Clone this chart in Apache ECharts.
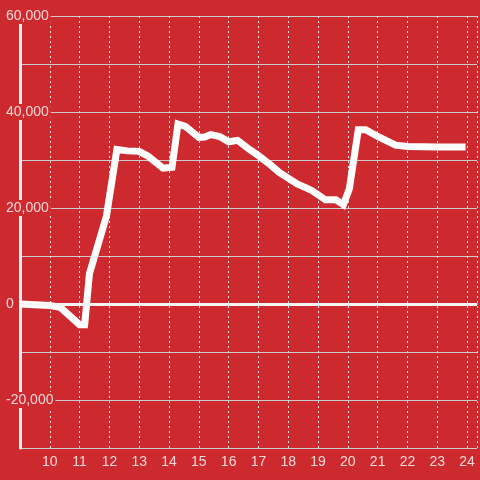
<!DOCTYPE html>
<html>
<head>
<meta charset="utf-8">
<script src="https://cdn.jsdelivr.net/npm/echarts@6/dist/echarts.min.js"></script>
<style>
  html, body { margin: 0; padding: 0; background: #cc2a2f; }
  #chart { width: 480px; height: 480px; }
</style>
</head>
<body>
<div id="chart"></div>
<script>
// x positions (hours) and values
const hours = [9, 10, 10.35, 11.0, 11.17, 11.33, 11.9, 12.25, 12.6, 13.0, 13.3, 13.8, 14.1, 14.3, 14.55, 15.0, 15.2, 15.4, 15.7, 16.0, 16.3, 16.7, 17.0, 17.4, 17.7, 18.1, 18.3, 18.6, 18.8, 19.25, 19.6, 19.85, 20.05, 20.35, 20.6, 21.0, 21.6, 22.0, 23.0, 23.95]
const values = [0, -300, -700, -4300, -4300, 6300, 18300, 32200, 31900, 31800, 30800, 28300, 28500, 37500, 37000, 34700, 34800, 35300, 34900, 33800, 34100, 32200, 30900, 29000, 27400, 25800, 25000, 24200, 23600, 21700, 21700, 20700, 24000, 36300, 36300, 34900, 33100, 32800, 32700, 32700]
const yLabelValues = [60000, 40000, 20000, 0, -20000]

const chart = echarts.init(document.getElementById('chart'))

chart.setOption({
  backgroundColor: '#cc2a2f',
  animation: false,
  grid: { left: 20, right: 0, top: 16, bottom: 32 },
  xAxis: {
    type: 'value', min: 9, max: 24.3333, interval: 1,
    axisLine: { show: true, lineStyle: { color: '#dddddd', width: 1.5 } },
    axisTick: { show: false },
    axisLabel: {
      color: '#f3d6d6', fontSize: 14, fontFamily: 'Liberation Sans', margin: 7,
      formatter: v => (Number.isInteger(v) && v > 9) ? String(v) : ''
    },
    splitLine: { show: true, lineStyle: { color: '#e6e6e6', width: 1, type: [2, 3] } }
  },
  yAxis: {
    type: 'value', min: -30000, max: 60000, interval: 10000,
    axisLine: { show: true, lineStyle: { color: '#f2f2f2', width: 3 } },
    axisTick: { show: false },
    axisLabel: {
      color: '#f3d6d6', fontSize: 14, fontFamily: 'Liberation Sans',
      align: 'left', margin: 14,
      backgroundColor: '#cc2a2f', padding: [1, 2, 1, 0],
      formatter: v => yLabelValues.includes(v) ? v.toLocaleString('en-US') : ''
    },
    splitLine: { show: true, lineStyle: { color: '#cccccc', width: 1 } }
  },
  series: [{
    type: 'line',
    data: hours.map((h, i) => [h, values[i]]),
    showSymbol: false,
    lineStyle: { color: '#ffffff', width: 7, cap: 'butt', join: 'miter' },
    markLine: {
      silent: true, symbol: 'none', label: { show: false },
      lineStyle: { color: '#f5f5f5', width: 3, type: 'solid' },
      data: [{ yAxis: 0 }]
    }
  }]
})
</script>
</body>
</html>
